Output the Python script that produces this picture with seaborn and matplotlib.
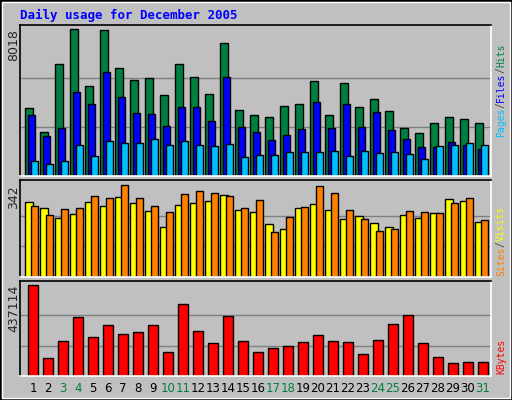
import matplotlib
matplotlib.use("Agg")
import matplotlib.pyplot as plt
import seaborn as sns
import pandas as pd
import numpy as np
from matplotlib.patches import Rectangle

sns.set_style("white")
plt.rcParams['font.family'] = ['DejaVu Sans Mono', 'DejaVu Sans']

days = list(range(1, 32))
hits = [3709,2400,6108,8018,4909,7990,5890,5236,5345,4418,6108,5400,4472,7254,3600,3327,3218,3818,3927,5181,3327,5072,3763,4200,3545,2618,2345,2891,3218,3109,2891]
files = [3327,2182,2618,4581,3927,5672,4309,3436,3382,2727,3763,3763,3000,5400,2672,2400,1963,2236,2563,4036,2618,3927,2672,3490,2509,2018,1582,1600,1854,1691,1473]
pages = [818,654,818,1691,1091,1909,1800,1800,2018,1691,1909,1691,1636,1745,1036,1145,1145,1309,1309,1309,1363,1091,1363,1254,1309,1200,927,1640,1691,1800,1691]
visits = [279,256,219,234,279,264,297,275,245,186,268,275,282,305,249,242,197,178,256,271,249,216,227,201,186,230,219,238,290,283,204]
sites = [264,230,253,256,301,294,342,294,264,242,309,320,312,301,256,286,167,223,260,338,312,249,216,171,178,245,242,238,275,294,212]
kbytes = [437114,86454,168105,283377,187317,244953,201726,211332,244953,115272,345816,216135,158499,288180,168105,115272,134484,144090,163302,196923,168105,163302,105666,172908,249756,292983,158499,91257,62439,67242,67242]
weekend = [3,4,10,11,17,18,24,25,31]

BG = "#C0C0C0"
W, H = 512, 400
fig = plt.figure(figsize=(W/100, H/100), dpi=100, facecolor=BG)
fig.patches.append(Rectangle((0, 0), 1, 1, transform=fig.transFigure, fill=False, ec="black", lw=2))
fig.patches.append(Rectangle((2/W, 2/H), 1-4/W, 1-4/H, transform=fig.transFigure, fill=False, ec="white", lw=1))

def mkax(top, bot):
    return fig.add_axes([20/W, (H-bot)/H, (491-20)/W, (bot-top)/H], facecolor=BG)

def bars(ax, vals, off, width, color):
    df = pd.DataFrame({"x": np.array(days) + off, "y": vals})
    sns.barplot(data=df, x="x", y="y", native_scale=True, width=width, color=color,
                saturation=1, edgecolor="black", linewidth=1, ax=ax)

def style(ax, ymax, ytop, label):
    ax.set_xlim(1 - 13/15, 31 + 8/15)
    ax.set_ylim(0, ytop)
    ax.set_yticks([ymax/3, 2*ymax/3])
    ax.yaxis.grid(True, color="#808080", lw=1)
    ax.set_axisbelow(True)
    ax.set_yticklabels([])
    ax.tick_params(length=0)
    ax.set_xlabel(""); ax.set_ylabel("")
    ax.set_xticks([])
    for s in ax.spines.values():
        s.set_color("black"); s.set_linewidth(1.2)
    ax.spines["right"].set_color("white"); ax.spines["bottom"].set_color("white")
    ax.text(-6/471, ymax, label, transform=ax.get_yaxis_transform(), rotation=90,
            ha="center", va="top", fontsize=9, family="DejaVu Sans")

ax1 = mkax(25, 176)
bars(ax1, hits, -0.27, 0.49, "#008040")
bars(ax1, files, -0.1, 0.5, "#0000FF")
bars(ax1, pages, 0.1, 0.5, "#00C0FF")
style(ax1, 8018, 8018*151/147, "8018")

ax2 = mkax(180, 277)
bars(ax2, visits, -0.24, 0.53, "#FFFF00")
bars(ax2, sites, 0.1, 0.49, "#FF8000")
style(ax2, 342, 342*97/92, "342")

ax3 = mkax(281, 376)
bars(ax3, kbytes, -0.02, 0.69, "#FF0000")
style(ax3, 437114, 437114*95/91.5, "437114")

for d in days:
    fig.text((33 + (d-1)*15)/W, 1 - 388/H, str(d), ha="center", va="center", fontsize=8.5,
             family="DejaVu Sans", color="#008040" if d in weekend else "black")

fig.text(20/W, 1 - 15/H, "Daily usage for December 2005", ha="left", va="center",
         fontsize=9, fontweight="bold", color="#0000FF")

def side(parts, ybot):
    y = ybot
    for txt, col in parts:
        fig.text(501/W, 1 - y/H, txt, rotation=90, ha="center", va="bottom",
                 fontsize=7, color=col)
        y -= 5.85 * len(txt)

side([("Pages", "#00C0FF"), ("/", "#404040"), ("Files", "#0000FF"), ("/", "#404040"), ("Hits", "#008040")], 137)
side([("Sites", "#FF8000"), ("/", "#404040"), ("Visits", "#FFFF00")], 276)
side([("KBytes", "#FF0000")], 374)

fig.savefig("out.png", dpi=100, facecolor=BG)
